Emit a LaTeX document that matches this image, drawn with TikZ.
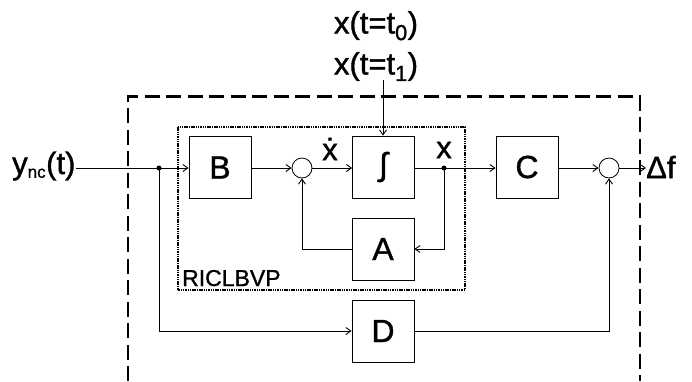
\documentclass[tikz,border=0pt]{standalone}
\usepackage{fontspec}
\setmainfont{Liberation Sans}
\newfontface\heavy{Liberation Sans}[FakeBold=1.2]
\usetikzlibrary{arrows.meta,calc}
\begin{document}
\begin{tikzpicture}[x=1pt,y=-1pt,
  >={Straight Barb[length=5pt,width=7pt,line width=0.9pt]},
  conn/.style={line width=0.8pt},
  blk/.style={draw,line width=0.8pt,minimum width=62pt,minimum height=62pt,inner sep=0pt,font=\fontsize{32}{34}\heavy},
  sumc/.style={draw,circle,line width=0.8pt,minimum size=20pt,inner sep=0pt},
  jdot/.style={fill,circle,inner sep=0pt,minimum size=5pt},
  lbl/.style={inner sep=0pt,font=\fontsize{31}{33}\heavy},
  outerbox/.style={line width=2.4pt,dash pattern=on 15pt off 6.5pt},
  innerbox/.style={line width=2pt,dash pattern=on 1.5pt off 0.8pt}
]
\useasboundingbox (0,0) rectangle (692,381);
% frames
\draw[outerbox] (128,381) -- (128,96.5) -- (640,96.5) -- (640,381);
\draw[innerbox] (178,127) rectangle (465,290);
\node[lbl,anchor=base west,font=\fontsize{23}{25}\heavy] (ric) at (182,286) {RICLBVP};
% blocks
\node[blk] (B) at (220,167.5) {B};
\node[blk] (I) at (383.5,167) {∫};
\node[blk] (C) at (527,167) {C};
\node[blk] (A) at (383,249) {A};
\node[blk] (D) at (383,331) {D};
\node[sumc] (s1) at (302,168) {};
\node[sumc] (s2) at (609,168) {};
% labels
\node[lbl,anchor=west] (yin) at (12,166) {y\textsubscript{\fontsize{17}{17}\heavy nc}(t)};
\node[lbl,anchor=west] (df) at (646,167) {Δf};
\node[lbl] (xd) at (330,149) {ẋ};
\node[lbl] (xl) at (444,150) {x};
\node[lbl,font=\fontsize{31}{41}\heavy,align=center] (top) at (376,46) {x(t=t\textsubscript{0})\\x(t=t\textsubscript{1})};
\coordinate (xin) at (383,80);
\coordinate (j1) at (159,168);
\coordinate (j2) at (444,168);
% connectors
\draw[conn,->] (yin.east |- j1) -- (B.west |- j1);
\draw[conn,->] (j1) |- (D.west);
\draw[conn,->] (B.east |- s1) -- (s1.west);
\draw[conn,->] (s1.east) -- (I.west |- s1);
\draw[conn,->] (I.east |- j2) -- (C.west |- j2);
\draw[conn,->] (j2) |- (A.east);
\draw[conn,->] (A.west) -| (s1.south);
\draw[conn,->] (C.east |- s2) -- (s2.west);
\draw[conn,->] (s2.east) -- (df.west |- s2);
\draw[conn,->] (D.east) -| (s2.south);
\draw[conn,->] (xin) -- (xin |- I.north);
\node[jdot] at (j1) {};
\node[jdot] at (j2) {};
\end{tikzpicture}
\end{document}
